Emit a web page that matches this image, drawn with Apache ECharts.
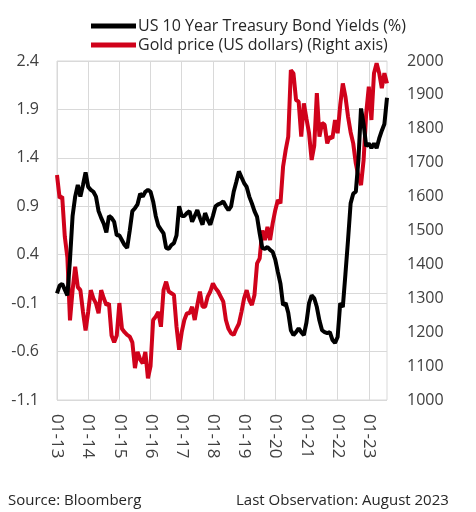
<!DOCTYPE html>
<html>
<head>
<meta charset="utf-8">
<script src="https://cdn.jsdelivr.net/npm/echarts@6/dist/echarts.min.js"></script>
<style>html,body{margin:0;padding:0;background:#fff;}#c{width:476px;height:512px;}</style>
</head>
<body>
<div id="c"></div>
<script>
// Monthly categories Jan 2013 .. Aug 2023
const startYear = 13;
const monthCount = 128;
const categories = [];
for (let i = 0; i < monthCount; i++) {
  const mm = String((i % 12) + 1).padStart(2, '0');
  const yy = String(startYear + Math.floor(i / 12)).padStart(2, '0');
  categories.push(mm + '-' + yy);
}

const yieldName = 'US 10 Year Treasury Bond Yields (%)';
const goldName = 'Gold price (US dollars) (Right axis)';

const yieldValues = [
  0.0, 0.08, 0.1, 0.04, -0.02, 0.35, 0.8, 1.0, 1.12, 1.0, 1.12, 1.25,
  1.1, 1.07, 1.05, 1.0, 0.85, 0.78, 0.72, 0.63, 0.8, 0.78, 0.74, 0.6,
  0.6, 0.55, 0.5, 0.47, 0.65, 0.85, 0.88, 0.92, 1.03, 1.0, 1.05, 1.07,
  1.05, 0.95, 0.8, 0.7, 0.66, 0.62, 0.47, 0.46, 0.5, 0.52, 0.6, 0.9,
  0.8, 0.8, 0.83, 0.85, 0.74, 0.8, 0.86, 0.78, 0.71, 0.83, 0.76, 0.71,
  0.8, 0.9, 0.92, 0.93, 0.95, 0.9, 0.86, 0.9, 1.05, 1.15, 1.26, 1.2,
  1.14, 1.1, 1.0, 0.93, 0.85, 0.79, 0.62, 0.47, 0.46, 0.48, 0.45, 0.43,
  0.35, 0.22, 0.1, -0.12, -0.1, -0.2, -0.38, -0.43, -0.4, -0.36, -0.4, -0.43,
  -0.3, -0.1, -0.02, -0.05, -0.14, -0.28, -0.38, -0.4, -0.41, -0.4, -0.48, -0.51,
  -0.45, -0.1, -0.14, 0.2, 0.55, 0.93, 1.03, 1.05, 1.38, 1.91, 1.75, 1.52,
  1.55, 1.5, 1.55, 1.5, 1.6, 1.68, 1.75, 2.02
];

const goldValues = [
  1664, 1596, 1600, 1482, 1420, 1235, 1324, 1393, 1333, 1324, 1260, 1205,
  1260, 1324, 1300, 1285, 1256, 1324, 1300, 1280, 1285, 1190, 1170, 1190,
  1286, 1210, 1200, 1192, 1187, 1170, 1094, 1142, 1120, 1108, 1142, 1064,
  1100, 1236, 1246, 1260, 1216, 1324, 1349, 1320, 1315, 1310, 1216, 1148,
  1200, 1236, 1256, 1256, 1275, 1236, 1280, 1320, 1275, 1275, 1305, 1320,
  1344, 1330, 1320, 1305, 1290, 1236, 1210, 1197, 1192, 1210, 1225, 1260,
  1300, 1324, 1295, 1280, 1310, 1403, 1418, 1500, 1472, 1511, 1472, 1521,
  1560, 1590, 1580, 1688, 1737, 1777, 1973, 1963, 1885, 1880, 1777, 1875,
  1830, 1787, 1708, 1750, 1905, 1777, 1817, 1812, 1757, 1777, 1772, 1826,
  1787, 1870, 1934, 1895, 1836, 1790, 1757, 1698, 1660, 1634, 1708, 1846,
  1924, 1826, 1964, 1993, 1964, 1920, 1964, 1934
];

const leftAxis = { min: -1.1, max: 2.4, interval: 0.5 };
const rightAxis = { min: 1000, max: 2000, interval: 100 };

const fontFamily = '"Open Sans", "Noto Sans", sans-serif';
const chart = echarts.init(document.getElementById('c'), null, { renderer: 'canvas' });

chart.setOption({
  animation: false,
  backgroundColor: '#fff',
  textStyle: { fontFamily: fontFamily },
  legend: {
    orient: 'vertical',
    left: 91,
    top: 18,
    padding: 0,
    itemWidth: 45,
    itemHeight: 5,
    itemGap: 3,
    icon: 'rect',
    textStyle: { fontSize: 16, color: '#262626', fontFamily: fontFamily, padding: [0, 0, 0, -3] },
    data: [yieldName, goldName]
  },
  grid: {
    left: 57, right: 89, top: 61, bottom: 112,
    show: true, borderColor: '#d9d9d9', borderWidth: 1
  },
  xAxis: {
    type: 'category',
    data: categories,
    boundaryGap: false,
    axisLine: { show: false },
    axisTick: { show: false },
    axisLabel: {
      interval: 11, rotate: -90, margin: 14,
      fontSize: 17, color: '#404040', fontFamily: fontFamily
    },
    splitLine: { show: true, interval: 11, lineStyle: { color: '#d9d9d9', width: 1 } }
  },
  yAxis: [
    {
      type: 'value', position: 'left',
      min: leftAxis.min, max: leftAxis.max, interval: leftAxis.interval,
      axisLine: { show: false }, axisTick: { show: false },
      axisLabel: { margin: 18, fontSize: 16, color: '#404040', fontFamily: fontFamily,
        formatter: v => (Math.round(v * 10) / 10).toFixed(1) },
      splitLine: { show: true, lineStyle: { color: '#d9d9d9', width: 1 } }
    },
    {
      type: 'value', position: 'right',
      min: rightAxis.min, max: rightAxis.max, interval: rightAxis.interval,
      axisLine: { show: false }, axisTick: { show: false },
      axisLabel: { margin: 20, fontSize: 16, color: '#404040', fontFamily: fontFamily,
        formatter: v => String(Math.round(v)) },
      splitLine: { show: false }
    }
  ],
  series: [
    {
      name: yieldName, type: 'line', yAxisIndex: 0,
      data: yieldValues, showSymbol: false, symbol: 'none',
      lineStyle: { color: '#000000', width: 4 },
      itemStyle: { color: '#000000' },
      z: 3,
      markLine: {
        silent: true, symbol: 'none', label: { show: false },
        lineStyle: { color: '#d9d9d9', width: 1, type: 'solid' },
        data: [{ yAxis: 0 }],
        z: 1
      }
    },
    {
      name: goldName, type: 'line', yAxisIndex: 1,
      data: goldValues, showSymbol: false, symbol: 'none',
      lineStyle: { color: '#D0021B', width: 4 },
      itemStyle: { color: '#D0021B' },
      z: 2
    }
  ],
  graphic: [
    { type: 'text', left: 8, top: 493,
      style: { text: 'Source: Bloomberg', fontSize: 15, fill: '#262626', fontFamily: fontFamily } },
    { type: 'text', left: 236, top: 493,
      style: { text: 'Last Observation: August 2023', fontSize: 15, fill: '#262626', fontFamily: fontFamily } }
  ]
});
</script>
</body>
</html>
